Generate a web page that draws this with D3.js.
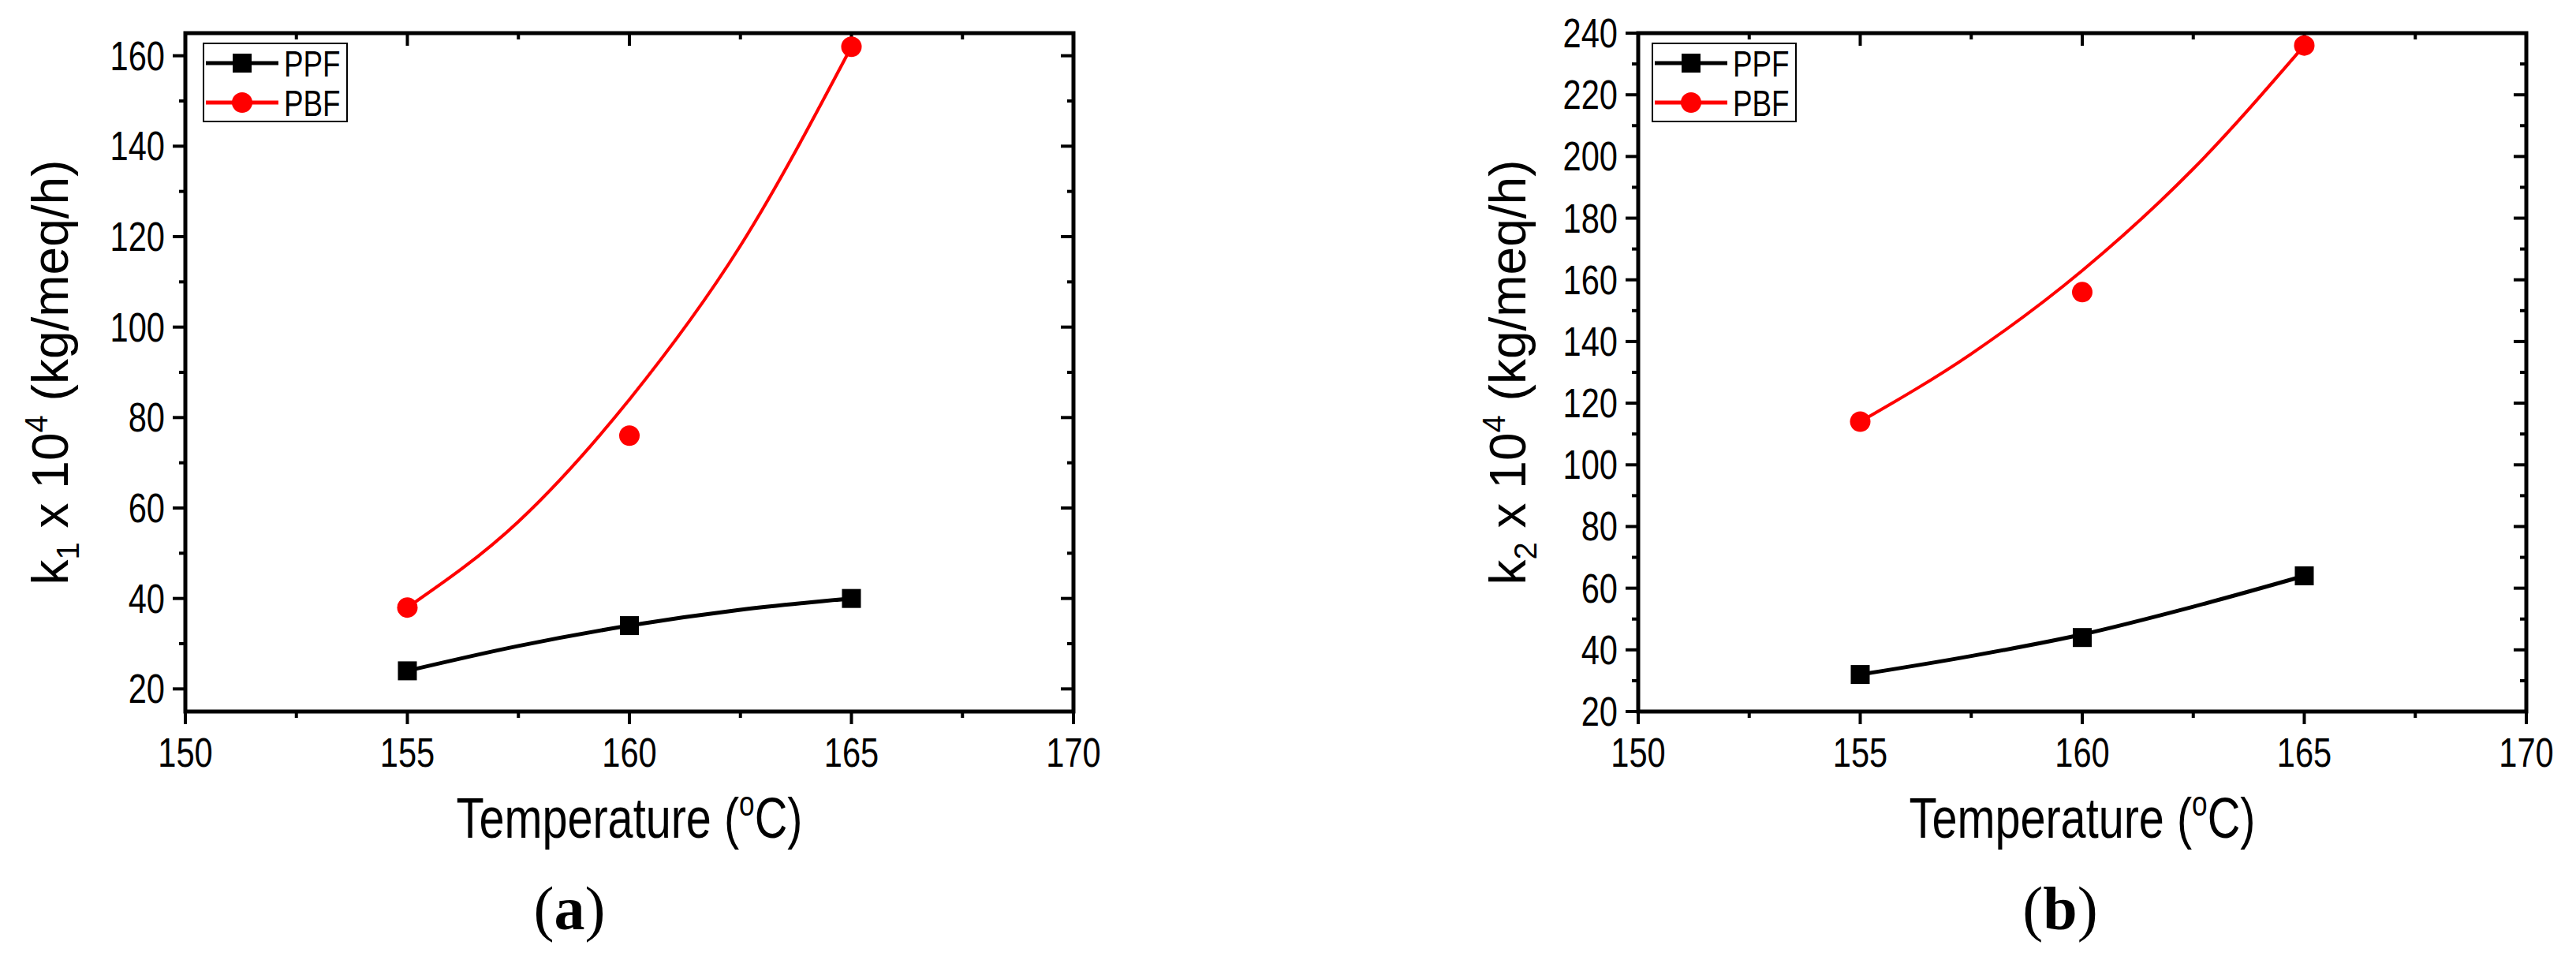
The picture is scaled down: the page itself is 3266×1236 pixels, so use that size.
<!DOCTYPE html>
<html><head><meta charset="utf-8">
<script src="https://cdn.jsdelivr.net/npm/d3@7"></script>
<style>body{margin:0;background:#fff}</style></head>
<body><svg id="c" width="3266" height="1236"></svg>
<script>
const temps = [155, 160, 165];
const ppfA = [24, 34, 40];
const pbfA = [38, 76, 162];
const ppfB = [32, 44, 64];
const pbfB = [114, 156, 236];
// fitted curves
const fitT = [155, 157.5, 160, 162.5, 165];
const ppfAFit = [24, 29.5, 34, 37.5, 40];
const pbfAFit = [38, 57, 84, 118, 162];
const ppfBFit = [32, 38, 45, 54, 64];
const pbfBFit = [114, 136, 163, 196, 236];
const xTicks = [150, 155, 160, 165, 170];
const yTicksA = [20, 40, 60, 80, 100, 120, 140, 160];
const yTicksB = [20, 40, 60, 80, 100, 120, 140, 160, 180, 200, 220, 240];

const svg = d3.select("#c");
const FONT = "'Liberation Sans',Arial,sans-serif";
const SX = 0.8;
function ntext(g, x, y, size, anchor){
  return g.append("g").attr("transform",`translate(${x},${y}) scale(${SX},1)`)
    .append("text").attr("text-anchor",anchor).attr("font-family",FONT).attr("font-size",size);
}

function panel(o){
  const g = svg.append("g");
  const x = d3.scaleLinear().domain([150,170]).range([o.x0,o.x1]);
  const y = d3.scaleLinear().domain(o.yd).range([902,42]);
  const minorX = d3.range(150,170.01,2.5);
  const minorY = d3.range(20, o.yd[1]+0.01, o.minor);
  const t = g.append("g").attr("stroke","#000").attr("stroke-width",4);
  minorX.forEach(v=>{
    const L = xTicks.includes(v)?16:8;
    t.append("line").attr("x1",x(v)).attr("x2",x(v)).attr("y1",902).attr("y2",902+L);
    t.append("line").attr("x1",x(v)).attr("x2",x(v)).attr("y1",42).attr("y2",42+L);
  });
  minorY.forEach(v=>{
    const L = o.yt.includes(v)?16:8;
    t.append("line").attr("x1",o.x0).attr("x2",o.x0-L).attr("y1",y(v)).attr("y2",y(v));
    t.append("line").attr("x1",o.x1).attr("x2",o.x1-L).attr("y1",y(v)).attr("y2",y(v));
  });
  g.append("rect").attr("x",o.x0).attr("y",42).attr("width",o.x1-o.x0).attr("height",860)
    .attr("fill","none").attr("stroke","#000").attr("stroke-width",5);
  xTicks.forEach(v=>ntext(g,x(v),972,52,"middle").text(v));
  o.yt.forEach(v=>ntext(g,o.x0-26,y(v)+18,52,"end").text(v));
  const line = d3.line().x((d,i)=>x(fitT[i])).y(d=>y(d)).curve(d3.curveMonotoneX);
  g.append("path").attr("d",line(o.pf)).attr("fill","none").attr("stroke","#000").attr("stroke-width",5);
  g.append("path").attr("d",line(o.bf)).attr("fill","none").attr("stroke","#f00").attr("stroke-width",4);
  o.p.forEach((v,i)=>g.append("rect").attr("x",x(temps[i])-12).attr("y",y(v)-12).attr("width",24).attr("height",24).attr("fill","#000"));
  o.b.forEach((v,i)=>g.append("circle").attr("cx",x(temps[i])).attr("cy",y(v)).attr("r",13).attr("fill","#f00"));
  const lx=o.lx, ly=55;
  g.append("rect").attr("x",lx).attr("y",ly).attr("width",182).attr("height",99).attr("fill","#fff").attr("stroke","#000").attr("stroke-width",2);
  [["PPF","#000"],["PBF","#f00"]].forEach((s,i)=>{
    const yy = ly+25+i*50;
    g.append("line").attr("x1",lx+3).attr("x2",lx+95).attr("y1",yy).attr("y2",yy).attr("stroke",s[1]).attr("stroke-width",5);
    if(i==0) g.append("rect").attr("x",lx+37).attr("y",yy-12).attr("width",24).attr("height",24).attr("fill","#000");
    else g.append("circle").attr("cx",lx+49).attr("cy",yy).attr("r",13).attr("fill","#f00");
    ntext(g,lx+102,yy+17,46,"start").text(s[0]);
  });
  const xt = ntext(g,(o.x0+o.x1)/2,1062,72,"middle");
  xt.append("tspan").text("Temperature (");
  xt.append("tspan").attr("dy",-28).attr("font-size",44).text("o");
  xt.append("tspan").attr("dy",28).text("C)");
  const yt = g.append("text").attr("transform",`translate(${o.tx},${(42+902)/2}) rotate(-90)`)
    .attr("text-anchor","middle").attr("font-family",FONT).attr("font-size",64);
  yt.append("tspan").text("k");
  yt.append("tspan").attr("dy",14).attr("font-size",40).text(o.sub);
  yt.append("tspan").attr("dy",-14).text(" x 10");
  yt.append("tspan").attr("dy",-26).attr("font-size",40).text("4");
  yt.append("tspan").attr("dy",26).text(" (kg/meq/h)");
  const lab = g.append("text").attr("x",o.labx).attr("y",1178).attr("text-anchor","middle")
    .attr("font-family","'Liberation Serif','Times New Roman',serif").attr("font-size",78);
  lab.append("tspan").text("(");
  lab.append("tspan").attr("font-weight","bold").text(o.lab);
  lab.append("tspan").text(")");
}
panel({x0:235,x1:1361,yd:[15,165],yt:yTicksA,minor:10,p:ppfA,b:pbfA,pf:ppfAFit,bf:pbfAFit,lx:258,tx:86,sub:"1",lab:"a",labx:722});
panel({x0:2077,x1:3203,yd:[20,240],yt:yTicksB,minor:10,p:ppfB,b:pbfB,pf:ppfBFit,bf:pbfBFit,lx:2095,tx:1934,sub:"2",lab:"b",labx:2612});
</script></body></html>
